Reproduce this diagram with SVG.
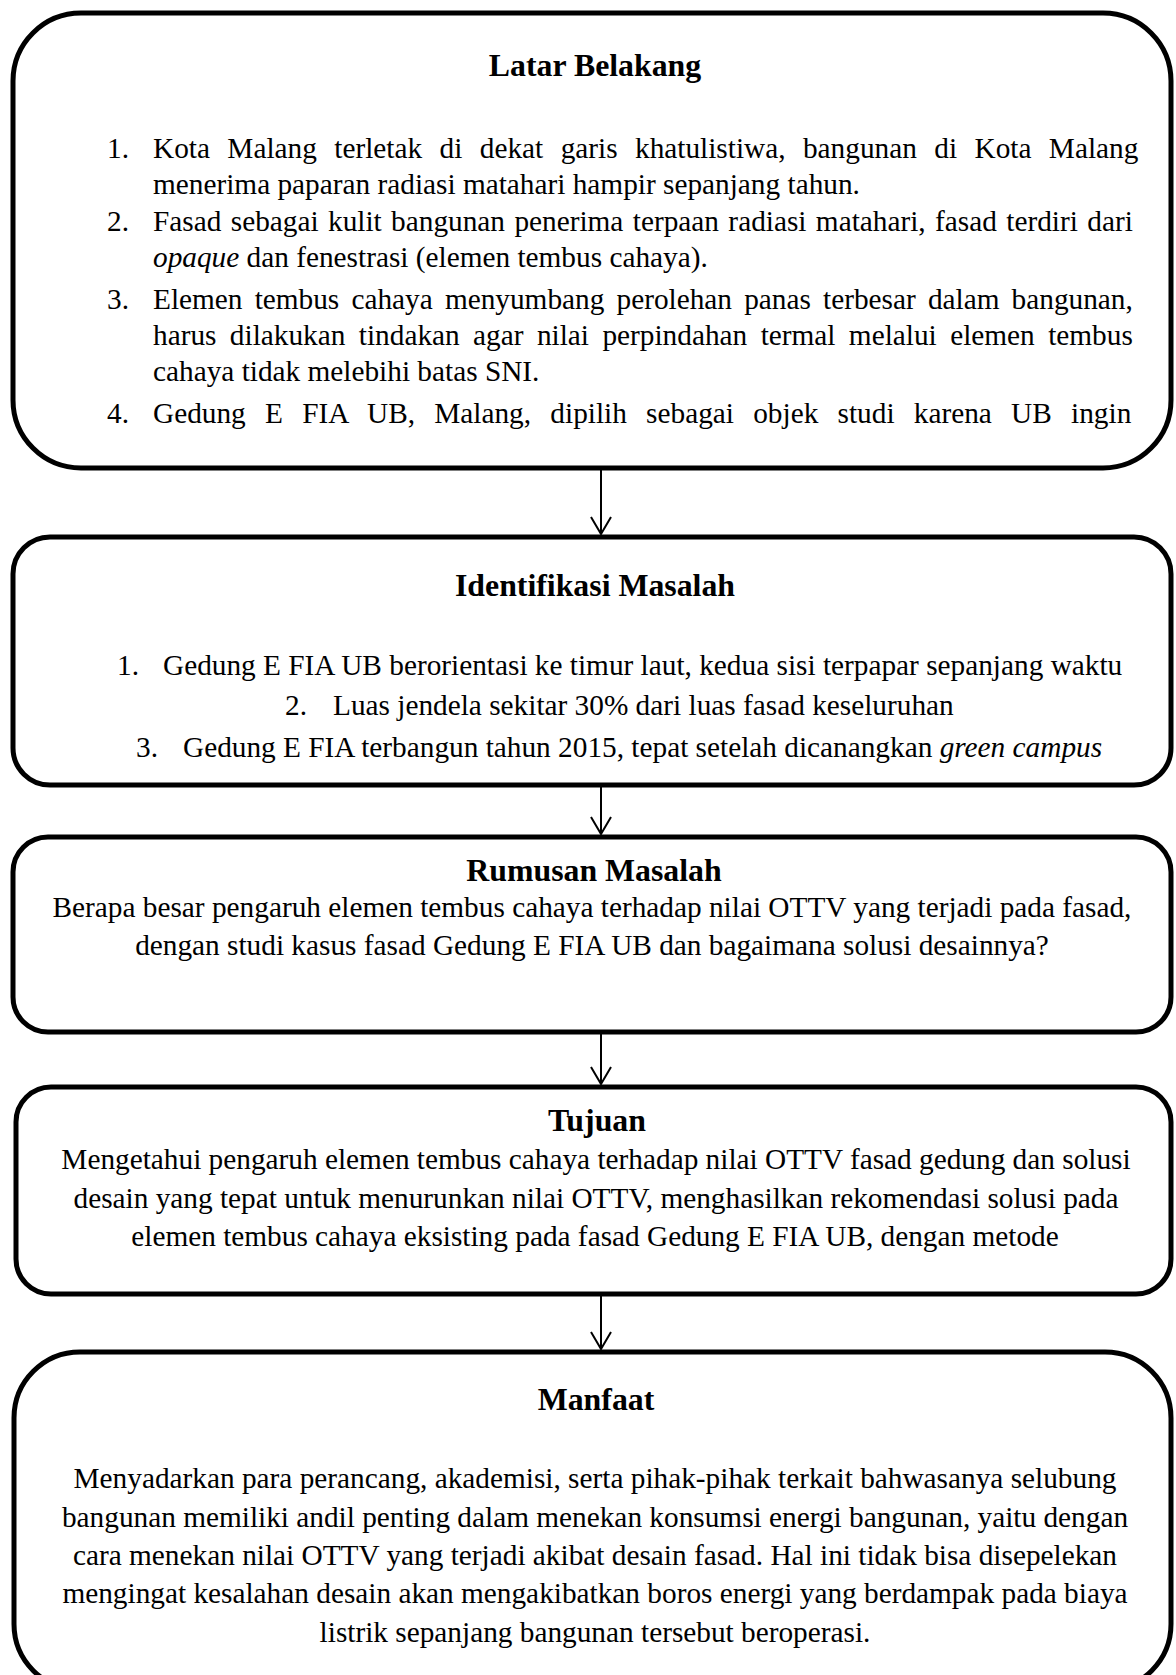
<svg xmlns="http://www.w3.org/2000/svg" width="1176" height="1675" viewBox="0 0 1176 1675">
<style>
.box{fill:#fff;stroke:#000;stroke-width:5}
.t{font-family:"Liberation Serif","Times New Roman",serif;font-size:29.3px;fill:#000}
.h{font-weight:bold;font-size:31.8px;text-anchor:middle}
.c{text-anchor:middle}
.i{font-style:italic}
.con{stroke:#000;stroke-width:2;fill:none}
</style>
<defs>
<marker id="arr" markerUnits="userSpaceOnUse" viewBox="-20 -12 22 24" refX="0" refY="0" markerWidth="22" markerHeight="24" orient="auto" overflow="visible">
<path d="M-17,-10 L0,0 L-17,10" fill="none" stroke="#000" stroke-width="2"/>
</marker>
</defs>
<rect width="1176" height="1675" fill="#fff"/>
<g id="connectors">
<line class="con" x1="601" y1="470" x2="601" y2="534" marker-end="url(#arr)"/>
<line class="con" x1="601" y1="787" x2="601" y2="834" marker-end="url(#arr)"/>
<line class="con" x1="601" y1="1034" x2="601" y2="1084" marker-end="url(#arr)"/>
<line class="con" x1="601" y1="1296" x2="601" y2="1349" marker-end="url(#arr)"/>
</g>
<g id="latar-belakang">
<rect class="box" x="13" y="13" width="1158" height="455" rx="68" ry="68"/>
<text class="t h" x="595" y="76">Latar Belakang</text>
<text class="t" x="107" y="158">1.</text>
<text class="t" x="153" y="158" word-spacing="10.1">Kota Malang terletak di dekat garis khatulistiwa, bangunan di Kota Malang</text>
<text class="t" x="153" y="194">menerima paparan radiasi matahari hampir sepanjang tahun.</text>
<text class="t" x="107" y="231">2.</text>
<text class="t" x="153" y="231" word-spacing="2.07">Fasad sebagai kulit bangunan penerima terpaan radiasi matahari, fasad terdiri dari</text>
<text class="t" x="153" y="267"><tspan class="i">opaque</tspan> dan fenestrasi (elemen tembus cahaya).</text>
<text class="t" x="107" y="309">3.</text>
<text class="t" x="153" y="309" word-spacing="4.83">Elemen tembus cahaya menyumbang perolehan panas terbesar dalam bangunan,</text>
<text class="t" x="153" y="345" word-spacing="6.09">harus dilakukan tindakan agar nilai perpindahan termal melalui elemen tembus</text>
<text class="t" x="153" y="381">cahaya tidak melebihi batas SNI.</text>
<text class="t" x="107" y="423">4.</text>
<text class="t" x="153" y="423" word-spacing="11.93">Gedung E FIA UB, Malang, dipilih sebagai objek studi karena UB ingin</text>
</g>
<g id="identifikasi-masalah">
<rect class="box" x="13" y="537" width="1158" height="248" rx="37" ry="37"/>
<text class="t h" x="595" y="596">Identifikasi Masalah</text>
<text class="t" x="117" y="675">1.</text>
<text class="t" x="163" y="675">Gedung E FIA UB berorientasi ke timur laut, kedua sisi terpapar sepanjang waktu</text>
<text class="t" x="285" y="715">2.</text>
<text class="t" x="333" y="715">Luas jendela sekitar 30% dari luas fasad keseluruhan</text>
<text class="t" x="136" y="757">3.</text>
<text class="t" x="183" y="757">Gedung E FIA terbangun tahun 2015, tepat setelah dicanangkan <tspan class="i">green campus</tspan></text>
</g>
<g id="rumusan-masalah">
<rect class="box" x="13" y="837" width="1158" height="195" rx="35" ry="35"/>
<text class="t h" x="594" y="881">Rumusan Masalah</text>
<text class="t c" x="592" y="917">Berapa besar pengaruh elemen tembus cahaya terhadap nilai OTTV yang terjadi pada fasad,</text>
<text class="t c" x="592" y="955">dengan studi kasus fasad Gedung E FIA UB dan bagaimana solusi desainnya?</text>
</g>
<g id="tujuan">
<rect class="box" x="16" y="1087" width="1155" height="207" rx="35" ry="35"/>
<text class="t h" x="597" y="1131">Tujuan</text>
<text class="t c" x="596" y="1169">Mengetahui pengaruh elemen tembus cahaya terhadap nilai OTTV fasad gedung dan solusi</text>
<text class="t c" x="596" y="1208">desain yang tepat untuk menurunkan nilai OTTV, menghasilkan rekomendasi solusi pada</text>
<text class="t c" x="595" y="1246">elemen tembus cahaya eksisting pada fasad Gedung E FIA UB, dengan metode</text>
</g>
<g id="manfaat">
<rect class="box" x="14" y="1352" width="1157" height="338" rx="66" ry="66"/>
<text class="t h" x="596" y="1410">Manfaat</text>
<text class="t c" x="595" y="1488">Menyadarkan para perancang, akademisi, serta pihak-pihak terkait bahwasanya selubung</text>
<text class="t c" x="595" y="1527">bangunan memiliki andil penting dalam menekan konsumsi energi bangunan, yaitu dengan</text>
<text class="t c" x="595" y="1565">cara menekan nilai OTTV yang terjadi akibat desain fasad. Hal ini tidak bisa disepelekan</text>
<text class="t c" x="595" y="1603">mengingat kesalahan desain akan mengakibatkan boros energi yang berdampak pada biaya</text>
<text class="t c" x="595" y="1642">listrik sepanjang bangunan tersebut beroperasi.</text>
</g>
</svg>
